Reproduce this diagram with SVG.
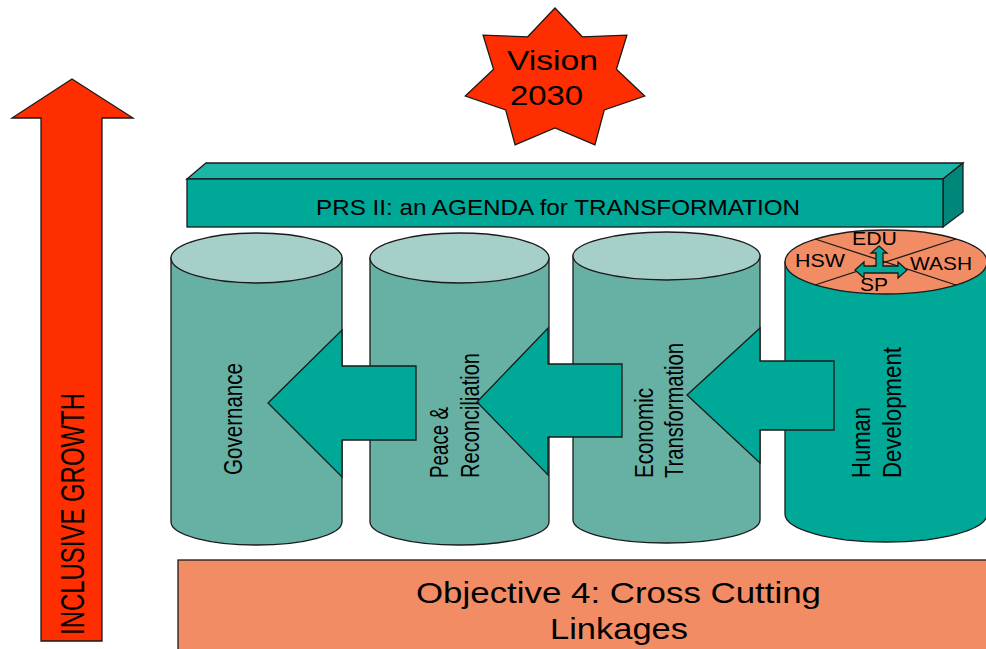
<svg xmlns="http://www.w3.org/2000/svg" width="986" height="649" viewBox="0 0 986 649">
<style>
text{font-family:"Liberation Sans",Arial,sans-serif;fill:#000}
.ln{stroke:#1a1a1a;stroke-width:1.3}
.red{fill:#ff2e00}
.cylL{fill:#66b1a3}
.cylTop{fill:#a7cfca}
.teal{fill:#00a898}
.salmon{fill:#f28c64}
.rot{font-size:25px}
</style>
<rect width="986" height="649" fill="#fff"/>
<g id="inclusive-growth">
<polygon class="red ln" points="72,79 133,118 102,118 102,641 41,641 41,118 12,118"/>
<text transform="translate(84,635) rotate(-90)" font-size="34" textLength="242" lengthAdjust="spacingAndGlyphs">INCLUSIVE GROWTH</text>
</g>
<g id="vision-2030">
<polygon class="red ln" points="555,8 582.3,36.8 626.9,35.1 616.4,69.3 644.7,96 604.3,109.9 594.9,144.9 555,128 515.1,144.9 505.7,109.9 465.3,96 493.6,69.3 483.1,35.1 527.7,36.8"/>
<text x="507" y="70" font-size="28" textLength="91" lengthAdjust="spacingAndGlyphs">Vision</text>
<text x="510" y="105" font-size="28" textLength="73" lengthAdjust="spacingAndGlyphs">2030</text>
</g>
<g id="prs-bar">
<polygon class="ln" fill="#1cb6a8" points="187,179 206,163 963,163 943,179"/>
<polygon class="ln" fill="#00877a" points="943,179 963,163 963,212 943,227"/>
<rect class="teal ln" x="187" y="179" width="756" height="48"/>
<text x="316" y="215" font-size="22" textLength="484" lengthAdjust="spacingAndGlyphs">PRS II: an AGENDA for TRANSFORMATION</text>
</g>
<g id="governance">
<path class="cylL ln" d="M171,258 L171,522 A85.5,23 0 0 0 342,522 L342,258 Z"/>
<ellipse class="cylTop ln" cx="256.5" cy="258" rx="85.5" ry="25"/>
</g>
<g id="peace-reconciliation">
<path class="cylL ln" d="M370,258 L370,522 A89.5,23 0 0 0 549,522 L549,258 Z"/>
<ellipse class="cylTop ln" cx="459.5" cy="258" rx="89.5" ry="25"/>
</g>
<g id="economic-transformation">
<path class="cylL ln" d="M573,256 L573,520 A93.5,23 0 0 0 760,520 L760,256 Z"/>
<ellipse class="cylTop ln" cx="666.5" cy="256" rx="93.5" ry="24"/>
</g>
<g id="human-development">
<path class="teal ln" d="M785,262 L785,514 A101,28 0 0 0 987,514 L987,262 Z"/>
<ellipse class="salmon ln" cx="886" cy="262" rx="101" ry="32"/>
<line class="ln" x1="815" y1="239" x2="956" y2="285"/>
<line class="ln" x1="956" y1="239" x2="815" y2="285"/>
<polygon class="teal ln" points="879,246 887,253 883,253 883,266 898,266 898,262 907,270 898,278 898,273 864,273 864,278 855,270 864,262 864,266 876,266 876,253 871,253"/>
<text x="852" y="245" font-size="18" textLength="45" lengthAdjust="spacingAndGlyphs">EDU</text>
<text x="795" y="267" font-size="18" textLength="50" lengthAdjust="spacingAndGlyphs">HSW</text>
<text x="910" y="270" font-size="18" textLength="62" lengthAdjust="spacingAndGlyphs">WASH</text>
<text x="860" y="291" font-size="18" textLength="28" lengthAdjust="spacingAndGlyphs">SP</text>
</g>
<g id="connectors">
<polygon class="teal ln" points="268,403 342,330 342,366 416,366 416,440 342,440 342,477"/>
<polygon class="teal ln" points="477,402 548,328 548,364 622,364 622,437 548,437 548,475"/>
<polygon class="teal ln" points="687,395 760,328 760,361 834,361 834,430 760,430 760,463"/>
</g>
<g id="pillar-labels" class="rot">
<text transform="translate(242,475) rotate(-90)" textLength="112" lengthAdjust="spacingAndGlyphs">Governance</text>
<text transform="translate(448,478) rotate(-90)" textLength="71" lengthAdjust="spacingAndGlyphs">Peace &amp;</text>
<text transform="translate(479,478) rotate(-90)" textLength="125" lengthAdjust="spacingAndGlyphs">Reconciliation</text>
<text transform="translate(653,478) rotate(-90)" textLength="90" lengthAdjust="spacingAndGlyphs">Economic</text>
<text transform="translate(683,478) rotate(-90)" textLength="135" lengthAdjust="spacingAndGlyphs">Transformation</text>
<text transform="translate(870,478) rotate(-90)" textLength="71" lengthAdjust="spacingAndGlyphs">Human</text>
<text transform="translate(901,478) rotate(-90)" textLength="131" lengthAdjust="spacingAndGlyphs">Development</text>
</g>
<g id="objective-4">
<rect class="salmon ln" x="178" y="560" width="820" height="100"/>
<text x="416" y="603" font-size="29" textLength="405" lengthAdjust="spacingAndGlyphs">Objective 4: Cross Cutting</text>
<text x="550" y="639" font-size="29" textLength="138" lengthAdjust="spacingAndGlyphs">Linkages</text>
</g>
</svg>
